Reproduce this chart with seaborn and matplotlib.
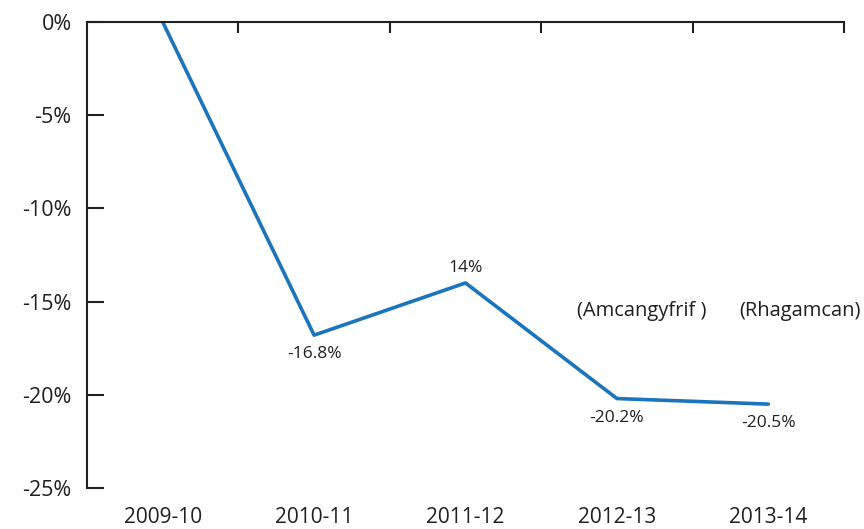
import matplotlib
matplotlib.use("Agg")
import matplotlib.pyplot as plt
import seaborn as sns
import pandas as pd

years = ["2009-10", "2010-11", "2011-12", "2012-13", "2013-14"]
change = [0.0, -16.8, -14.0, -20.2, -20.5]
point_labels = ["", "-16.8%", "14%", "-20.2%", "-20.5%"]
label_side = [0, -1, 1, -1, -1]
notes = ["(Amcangyfrif )", "(Rhagamcan)"]
yticks = [0, -5, -10, -15, -20, -25]

sns.set_theme(style="white")
plt.rcParams['font.family'] = ['Open Sans', 'DejaVu Sans']
text_col = "#231f20"
line_col = "#1a75bc"

df = pd.DataFrame({"year": years, "change": change})

fig = plt.figure(figsize=(8.64, 5.29), dpi=100)
ax = fig.add_axes([87/864, 1-488/529, (844-87)/864, (488-22)/529])
sns.lineplot(data=df, x="year", y="change", ax=ax, color=line_col, linewidth=2.6, sort=False)

ax.set_xlim(-0.5, 4.5)
ax.set_ylim(-25, 0)
ax.set_xlabel("")
ax.set_ylabel("")

for s in ["bottom", "right"]:
    ax.spines[s].set_visible(False)
for s in ["top", "left"]:
    ax.spines[s].set_color(text_col)
    ax.spines[s].set_linewidth(1.5)

ax.set_yticks(yticks)
ax.set_yticklabels([f"{v}%" for v in yticks], fontsize=15.5, color=text_col)
ax.tick_params(axis="y", direction="in", length=12, width=1.5, color=text_col, pad=11, left=True)

ax.set_xticks(range(len(years)))
ax.set_xticklabels(years, fontsize=15, color=text_col)
ax.tick_params(axis="x", which="major", length=0, pad=14, bottom=True, top=False)
ax.set_xticks([i + 0.5 for i in range(len(years))], minor=True)
ax.tick_params(axis="x", which="minor", direction="in", length=8, width=1.5, color=text_col,
               top=True, bottom=False)

for i, (lab, side) in enumerate(zip(point_labels, label_side)):
    if not lab:
        continue
    off = 15 if side > 0 else -19
    ax.annotate(lab, (i, change[i]), xytext=(0, off), textcoords="offset pixels",
                ha="center", va="center", fontsize=12.5, color=text_col)

ax.text(3.165, -15.5, notes[0], ha="center", va="center", fontsize=14.5, color=text_col)
ax.text(4.21, -15.5, notes[1], ha="center", va="center", fontsize=14.5, color=text_col, clip_on=False)

fig.savefig("out.png", dpi=100)
